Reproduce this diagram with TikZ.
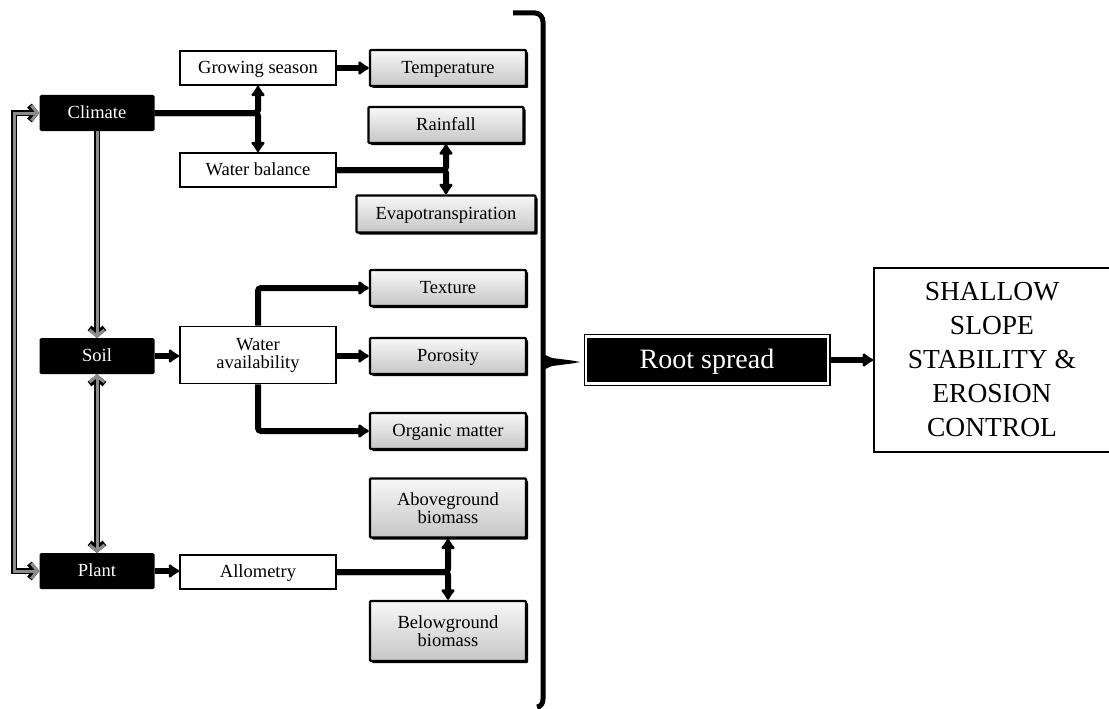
\documentclass[tikz,border=0pt]{standalone}
\usepackage{fontspec}
\setmainfont{Liberation Serif}
\usetikzlibrary{arrows.meta,shadows,calc}
\begin{document}
\begin{tikzpicture}[x=1pt,y=-1pt,
  txt/.style={font=\fontsize{18.5}{21}\selectfont},
  one/.style={text height=13pt,text depth=2pt},
  blk/.style={txt,one,fill=black,text=white,rounded corners=1.5pt,minimum width=115pt,minimum height=36pt,inner sep=0pt},
  wbox/.style={txt,draw=black,line width=1.6pt,fill=white,minimum width=156pt,minimum height=34pt,align=center,inner sep=1pt},
  gbox/.style={txt,draw=black,line width=2.4pt,rounded corners=1pt,top color=gray!6,bottom color=gray!45,
    minimum width=156pt,minimum height=36pt,align=center,inner sep=1pt,
    drop shadow={shadow xshift=2pt,shadow yshift=-2pt,fill=black,opacity=1}},
  thk/.style={line width=6pt,rounded corners=3pt,-{Latex[length=12pt,width=17pt,round]}},
  garr/.style={line width=6pt,draw=black,postaction={draw=black!45,line width=3pt}},
  btip/.tip={Straight Barb[length=6pt,width=15pt]},
]
\useasboundingbox (0,0) rectangle (1109,709);

% left column
\node[blk] (climate) at (97,113) {Climate};
\node[blk] (soil) at (97,356) {Soil};
\node[blk] (plant) at (97,571) {Plant};

% middle white boxes
\node[wbox,one] (grow) at (258,68) {Growing season};
\node[wbox,one] (wbal) at (258,170) {Water balance};
\node[wbox,minimum height=57pt] (wavail) at (258,355) {Water\\[-3pt]availability};
\node[wbox,one] (allo) at (258,572) {Allometry};

% gray boxes
\node[gbox,one] (temp) at (448,68) {Temperature};
\node[gbox,one,minimum width=155pt] (rain) at (446,125) {Rainfall};
\node[gbox,one,minimum width=179pt,minimum height=37pt] (evapo) at (446,214) {Evapotranspiration};
\node[gbox,one] (texture) at (448,288) {Texture};
\node[gbox,one] (poro) at (448,356) {Porosity};
\node[gbox,one] (organic) at (448,431) {Organic matter};
\node[gbox,minimum height=59pt] (above) at (448,508) {Aboveground\\[-3pt]biomass};
\node[gbox,minimum height=60pt] (below) at (448,631) {Belowground\\[-3pt]biomass};

% root spread and outcome
\node[fill=black,text=white,font=\fontsize{28}{32}\selectfont,minimum width=242pt,minimum height=47pt,
  text height=19pt,text depth=3pt,
  draw=black,line width=1.2pt,double=white,double distance=2.6pt,inner sep=0pt,
  drop shadow={shadow xshift=2pt,shadow yshift=-2pt,fill=black,opacity=1}] (root) at (707,360) {Root spread};
\node[draw=black,line width=1.8pt,fill=white,minimum width=236pt,minimum height=184pt,align=center,
  font=\fontsize{27.5}{34}\selectfont] (shallow) at (992,360) {SHALLOW\\SLOPE\\STABILITY \&\\EROSION\\CONTROL};

% black connectors
\draw[thk] (climate.east) -| (grow.south);
\draw[thk] (climate.east) -| (wbal.north);
\draw[thk] (grow.east) -- (temp.west);
\draw[thk] (wbal.east) -| (rain.south);
\draw[thk] (wbal.east) -| (evapo.north);
\draw[thk] (soil.east) -- (wavail.west |- soil.east);
\draw[thk] (wavail.north) |- (texture.west);
\draw[thk] (wavail.east |- poro.west) -- (poro.west);
\draw[thk] (wavail.south) |- (organic.west);
\draw[thk] (plant.east) -- (allo.west |- plant.east);
\draw[thk] (allo.east) -| (above.south);
\draw[thk] (allo.east) -| (below.north);
\draw[thk] (root.east) -- (shallow.west |- root.east);

% gray feedback connectors
\draw[garr,-btip] (climate.south) -- (soil.north);
\draw[garr,btip-btip] (soil.south) -- (plant.north);
\draw[garr,btip-btip] (climate.west) -- ++(-25,0) |- (plant.west);

% bracket
\coordinate (bt) at (580,362);
\draw[line width=5pt] (513,13) -- (535,13) to[out=0,in=90] (543,22) -- (543,699) to[out=-90,in=0] (537,707);
\fill (543,354) -- (552,358) -- (572,360.5) -- (bt) -- (572,363.5) -- (552,366) -- (543,370) -- cycle;
\end{tikzpicture}
\end{document}
